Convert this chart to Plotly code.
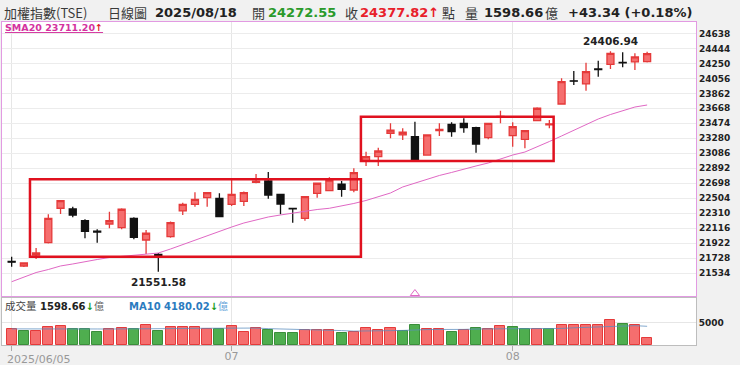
import plotly.graph_objects as go

# ---------------- data ----------------
x_index = list(range(53))
opens = [21685, 21625, 21767, 21927, 22373, 22364, 22212, 22075, 22169, 22121,
         22243, 21962, 21774, 22005, 22338, 22424, 22510, 22502, 22424, 22463,
         22710, 22727, 22554, 22372, 22243, 22567, 22601, 22684, 22610, 22986,
         23041, 23345, 23323, 23300, 23063, 23380, 23461, 23474, 23417, 23288,
         23555, 23314, 23267, 23508, 23455, 23724, 24025, 23984, 24178, 24239,
         24265, 24270, 24272.55]
highs = [21745, 21672, 21858, 22295, 22480, 22393, 22230, 22100, 22329, 22373,
         22256, 22091, 21793, 22200, 22445, 22580, 22580, 22567, 22739, 22590,
         22817, 22843, 22560, 22375, 22530, 22705, 22774, 22727, 22891, 23106,
         23158, 23474, 23409, 23495, 23330, 23474, 23487, 23539, 23430, 23480,
         23637, 23487, 23385, 23682, 23517, 24057, 24152, 24260, 24285, 24406.94,
         24394, 24381, 24400]
lows = [21615, 21612, 21715, 21915, 22299, 22256, 21984, 21927, 22113, 22100,
        21971, 21780, 21551.58, 21990, 22286, 22393, 22393, 22256, 22402, 22402,
        22697, 22497, 22295, 22186, 22212, 22510, 22595, 22523, 22580, 22921,
        22921, 23280, 23258, 22985, 23058, 23310, 23300, 23352, 23093, 23267,
        23474, 23171, 23150, 23500, 23409, 23720, 23970, 23897, 24078, 24178,
        24200, 24165, 24262]
closes = [21675, 21664, 21793, 22243, 22471, 22286, 22075, 22065, 22212, 22360,
          21997, 22049, 21754, 22186, 22424, 22489, 22575, 22264, 22554, 22577,
          22724, 22545, 22428, 22367, 22523, 22697, 22739, 22619, 22834, 23041,
          23115, 23387, 23358, 22990, 23323, 23395, 23365, 23417, 23206, 23474,
          23565, 23430, 23378, 23669, 23467, 24013, 24020, 24143, 24170, 24381,
          24258, 24334.48, 24377.82]
prev_close_first = 21600
volumes = [3640, 3120, 3120, 3990, 4210, 3490, 3640, 2990, 3640, 3860,
           3490, 4580, 3120, 3990, 3990, 3990, 3640, 3640, 4210, 2990,
           3710, 3270, 2620, 2770, 3270, 3270, 3340, 2770, 2990, 3860,
           3340, 3860, 3120, 4430, 3490, 3490, 2990, 3270, 3860, 3490,
           4210, 3990, 3490, 3640, 3490, 4580, 4360, 4360, 4360, 5670,
           4800, 4430, 1598.66]
sma20 = [21421, 21476, 21540, 21579, 21625, 21651, 21683, 21709, 21735, 21751,
         21764, 21780, 21793, 21845, 21903, 21962, 22020, 22078, 22130, 22182,
         22221, 22260, 22286, 22312, 22338, 22357, 22373, 22402, 22435, 22474,
         22519, 22571, 22649, 22700, 22746, 22798, 22837, 22882, 22921, 22960,
         23012, 23063, 23102, 23167, 23238, 23310, 23387, 23459, 23530, 23588,
         23640, 23685, 23711.20]
ma10 = [3600, 3620, 3600, 3580, 3600, 3620, 3600, 3580, 3570, 3570,
        3555, 3700, 3700, 3700, 3680, 3730, 3730, 3790, 3850, 3765,
        3785, 3655, 3605, 3485, 3410, 3340, 3310, 3220, 3100, 3185,
        3150, 3210, 3260, 3425, 3445, 3470, 3435, 3485, 3570, 3535,
        3620, 3635, 3670, 3590, 3590, 3700, 3840, 3945, 4000, 4215,
        4275, 4320, 4180.02]
price_ticks = [21534, 21728, 21922, 22116, 22310, 22504, 22698, 22892, 23086,
               23280, 23474, 23668, 23862, 24056, 24250, 24444, 24638]
volume_ticks = [5000]
x_tick_vals = [0, 18, 41]
x_tick_text = ["2025/06/05", "07", "08"]
# highlighted ranges: (x from, x to, low, high)
box_ranges = [(1.5, 28.58, 21745, 22749), (28.58, 44.35, 22986, 23560)]
event_marks = [33]

hdr_date = "2025/08/18"
hdr_open = "24272.55"
hdr_close = "24377.82"
hdr_vol = "1598.66"
hdr_change = "+43.34 (+0.18%)"
sma_label = "SMA20 23711.20"
vol_label = "1598.66"
ma10_label = "MA10 4180.02"
max_label = "24406.94"
min_label = "21551.58"

# ---------------- styling ----------------
W, H = 740, 365
L, R, T, B = 2, 44, 22, 20
PW, PH = W - L - R, H - T - B
RED_FILL, RED_LINE = "#f56e6e", "#e53a3a"
GRN_FILL, GRN_LINE = "#4fae4f", "#3b8e3b"
BLACK = "#111111"
PINK_BORDER = "#e29ae2"
SMA_COLOR = "#e068c4"
BOX_RED = "#e0111f"
LATIN = "DejaVu Sans"
CJK = "Noto Sans CJK TC"
MIX = "DejaVu Sans, Noto Sans CJK TC"


def px_x(px):
    return (px - L) / PW


def px_y(py):
    return (H - B - py) / PH


vol_colors, vol_lines = [], []
for i, c in enumerate(closes):
    prev = closes[i - 1] if i > 0 else prev_close_first
    up = c >= prev
    vol_colors.append(RED_FILL if up else GRN_FILL)
    vol_lines.append(RED_LINE if up else GRN_LINE)

fig = go.Figure()
fig.add_trace(go.Candlestick(
    x=x_index, open=opens, high=highs, low=lows, close=closes,
    increasing=dict(line=dict(color=RED_LINE, width=1.3), fillcolor=RED_FILL),
    decreasing=dict(line=dict(color=BLACK, width=1.3), fillcolor=BLACK),
    whiskerwidth=0, showlegend=False, hoverinfo="skip", xaxis="x", yaxis="y"))
fig.add_trace(go.Scatter(
    x=x_index, y=sma20, mode="lines", line=dict(color=SMA_COLOR, width=1),
    showlegend=False, hoverinfo="skip", xaxis="x", yaxis="y"))
fig.add_trace(go.Scatter(
    x=event_marks, y=[21268] * len(event_marks), mode="markers",
    marker=dict(symbol="triangle-up-open", size=8, color=SMA_COLOR, line=dict(width=1)),
    showlegend=False, hoverinfo="skip", xaxis="x", yaxis="y", cliponaxis=False))
fig.add_trace(go.Bar(
    x=x_index, y=volumes, width=0.82,
    marker=dict(color=vol_colors, line=dict(color=vol_lines, width=1)),
    showlegend=False, hoverinfo="skip", xaxis="x2", yaxis="y2"))
fig.add_trace(go.Scatter(
    x=x_index, y=ma10, mode="lines", line=dict(color="rgba(90,140,190,0.75)", width=1),
    showlegend=False, hoverinfo="skip", xaxis="x2", yaxis="y2"))

x_range = [-0.79, 56.0]
vol_top = (H - B - 298) / PH
price_bot = (H - B - 296) / PH

fig.update_layout(
    width=W, height=H, margin=dict(l=L, r=R, t=T, b=B, autoexpand=False),
    paper_bgcolor="#f1f1f1", plot_bgcolor="#ffffff",
    hovermode=False, boxgap=0.18, bargap=0,
    xaxis=dict(domain=[0, 1], anchor="y", range=x_range, rangeslider=dict(visible=False),
               tickvals=x_tick_vals, showticklabels=False, showgrid=True, automargin=False,
               gridcolor="#e6e6e6", gridwidth=1, zeroline=False,
               showline=True, mirror=True, linecolor=PINK_BORDER, linewidth=1.3),
    yaxis=dict(domain=[price_bot, 1], anchor="x", side="right", range=[21236, 24787],
               tickvals=price_ticks, ticktext=[str(v) for v in price_ticks], automargin=False,
               tickfont=dict(family=LATIN, size=9, color="#222222", weight="bold"),
               showgrid=True, gridcolor="#ececec", zeroline=False,
               showline=True, mirror=True, linecolor=PINK_BORDER, linewidth=1.3,
               ticks="", ticklabelstandoff=0),
    xaxis2=dict(domain=[0, 1], anchor="y2", range=x_range, matches="x", automargin=False,
                tickvals=x_tick_vals, ticktext=["", x_tick_text[1], x_tick_text[2]],
                tickfont=dict(family=LATIN, size=11, color="#999999"),
                ticks="outside", ticklen=5, tickcolor="#aaaaaa", showgrid=True,
                gridcolor="#e6e6e6", zeroline=False, ticklabelstandoff=-4,
                showline=True, mirror=True, linecolor="#bdbdbd", linewidth=1),
    yaxis2=dict(domain=[0, vol_top], anchor="x2", side="right", range=[0, 10500],
                tickvals=volume_ticks, ticktext=[str(v) for v in volume_ticks], automargin=False,
                tickfont=dict(family=LATIN, size=9, color="#222222", weight="bold"),
                showgrid=True, gridcolor="#e6e6e6", zeroline=False,
                showline=True, mirror=True, linecolor="#bdbdbd", linewidth=1,
                ticks="", ticklabelstandoff=0),
)

for x0, x1, y0, y1 in box_ranges:
    fig.add_shape(type="rect", xref="x", yref="y", x0=x0, x1=x1, y0=y0, y1=y1,
                  line=dict(color=BOX_RED, width=2.5), fillcolor="rgba(0,0,0,0)")

ann = []


def text_at(px, py, text, color="#333333", size=13, family=MIX, bold=False):
    ann.append(dict(xref="paper", yref="paper", x=px_x(px), y=px_y(py), text=text,
                    showarrow=False, xanchor="left", yanchor="middle",
                    font=dict(family=family, size=size, color=color,
                              weight="bold" if bold else "normal")))


# header line
text_at(2, 12, "加權指數(TSE)", color="#3a3a3a", size=13, family=CJK)
text_at(106, 12, "日線圖", color="#3a3a3a", size=13, family=CJK)
text_at(153, 12, hdr_date, color="#222222", bold=True)
text_at(250, 12, "開", color="#3a3a3a", family=CJK)
text_at(266, 12, hdr_open, color="#2a9a2a", bold=True)
text_at(343, 12, "收", color="#3a3a3a", family=CJK)
text_at(358, 12, hdr_close + "↑", color="#e8202a", bold=True)
text_at(440, 12, "點", color="#3a3a3a", family=CJK)
text_at(463, 12, "量", color="#3a3a3a", family=CJK)
text_at(482, 12, hdr_vol, color="#222222", bold=True)
text_at(543, 12, "億", color="#3a3a3a", family=CJK)
text_at(566, 12, hdr_change, color="#222222", bold=True)

# SMA label inside price panel
text_at(3, 28, "<u>" + sma_label + "<span style='color:#e0202a'>↑</span></u>",
        color="#d4329f", size=9.5, bold=True)

# volume panel labels
text_at(3, 305.5, "成交量", color="#444444", size=10.5, family=CJK)
text_at(38, 305.5, "<b>" + vol_label + "</b><span style='color:#1a9a1a'><b>↓</b></span>"
        "<span style='color:#666666'>億</span>", color="#222222", size=10)
text_at(127, 305.5, "<b>" + ma10_label + "</b><span style='color:#1a9a1a'><b>↓</b></span>"
        "<span style='color:#6aa6da'>億</span>", color="#2b7bbf", size=10)

# max / min labels
imax = highs.index(max(highs))
imin = lows.index(min(lows))
ann.append(dict(xref="x", yref="y", x=imax, y=highs[imax], text=max_label, showarrow=False,
                xanchor="center", yanchor="bottom", yshift=2,
                font=dict(family=LATIN, size=10.5, color="#222222", weight="bold")))
ann.append(dict(xref="x", yref="y", x=imin, y=lows[imin], text=min_label, showarrow=False,
                xanchor="center", yanchor="top", yshift=-2,
                font=dict(family=LATIN, size=10.5, color="#222222", weight="bold")))

# first date label (left aligned at its tick)
ann.append(dict(xref="x2", yref="paper", x=x_tick_vals[0], y=px_y(359.5), text=x_tick_text[0],
                showarrow=False, xanchor="left", yanchor="middle", xshift=-7,
                font=dict(family=LATIN, size=11, color="#999999")))

fig.update_layout(annotations=ann)
fig.write_html("out.html", config={"displayModeBar": False},
               post_script="document.body.style.margin='0';document.body.style.overflow='hidden';")
